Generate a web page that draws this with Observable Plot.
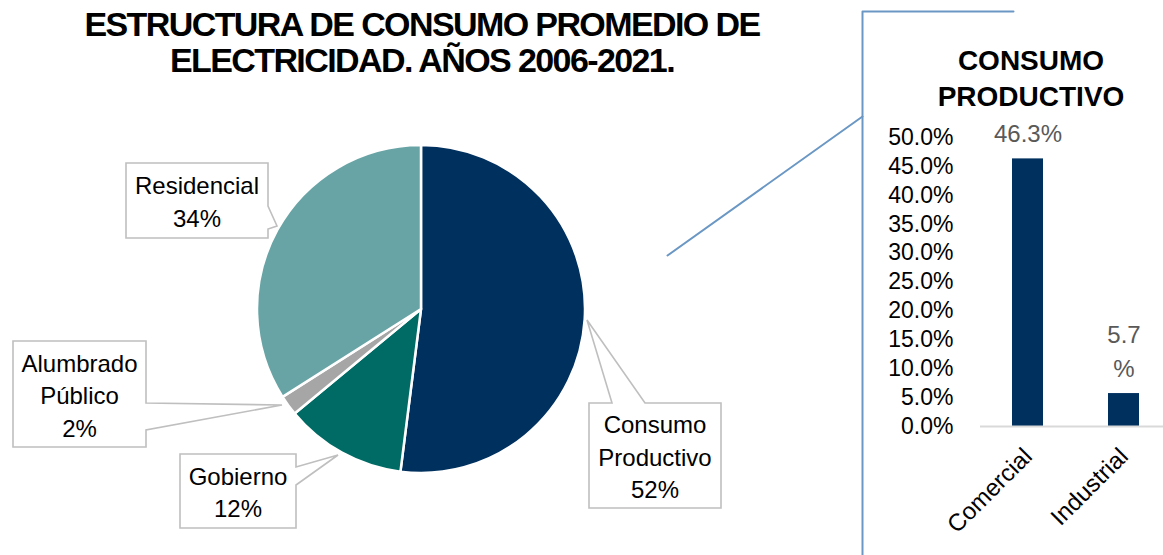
<!DOCTYPE html>
<html>
<head>
<meta charset="utf-8">
<script src="https://cdn.jsdelivr.net/npm/d3@7"></script>
<script src="https://cdn.jsdelivr.net/npm/@observablehq/plot@0.6"></script>
<style>
  html, body { margin: 0; padding: 0; background: #fff; }
  #wrap { position: relative; width: 1163px; height: 555px; overflow: hidden; background: #fff;
          font-family: "Liberation Sans", Arial, sans-serif; }
  #wrap svg { position: absolute; top: 0; }
  .title { position: absolute; left: 0; top: 6px; width: 844px; text-align: center; font-weight: bold;
           font-size: 34px; letter-spacing: -1.6px; line-height: 36px; color: #000; }
  .subtitle { position: absolute; left: 881px; top: 43px; width: 300px; text-align: center; font-weight: bold;
              font-size: 28px; line-height: 36px; color: #000; }
</style>
</head>
<body>
<div id="wrap">
  <div class="title">ESTRUCTURA DE CONSUMO PROMEDIO DE<br>ELECTRICIDAD. AÑOS 2006-2021.</div>
  <div class="subtitle">CONSUMO<br>PRODUCTIVO</div>
</div>
<script>
// ---- data ----
const pieCategories = ["Consumo Productivo", "Gobierno", "Alumbrado Público", "Residencial"];
const pieValues = [52, 12, 2, 34];
const pieColors = ["#00305E", "#006B65", "#A6A6A6", "#68A4A5"];

const barCategories = ["Comercial", "Industrial"];
const barValues = [0.463, 0.057];
const barTicks = [0, 0.05, 0.10, 0.15, 0.20, 0.25, 0.30, 0.35, 0.40, 0.45, 0.50];
const barLabelWrap = [false, true];

// ---- layout (page pixels) ----
const pieLayout = { cx: 421, cy: 309, r: 164 };
const callouts = [
  { box: [589, 403, 721, 508], path: "M589,403H612L587,320L645,403H721V508H589Z" },
  { box: [180, 454, 296, 528], path: "M180,454H296V467L338,455L296,485V528H180Z" },
  { box: [13, 341, 146, 447],  path: "M13,341H146V403L282,405L146,430V447H13Z" },
  { box: [126, 163, 268, 238], path: "M126,163H268V206L277,226L268,229V238H126Z" }
];
const frameLine = [[862, 555], [862, 11], [1013, 11]];
const connectorLine = [[667, 255], [862, 116]];
const lineColor = "#6A97C4";

const wrap = document.getElementById("wrap");

// ---- pie (main plot) ----
const pieRender = (index, scales) => {
  const g = d3.create("svg:g");
  const cx = scales.x(pieLayout.cx), cy = scales.y(pieLayout.cy);
  const arcs = d3.pie().sort(null).value(d => d)(pieValues);
  const arc = d3.arc().innerRadius(0).outerRadius(pieLayout.r);
  g.append("g").attr("transform", `translate(${cx},${cy})`)
    .selectAll("path").data(arcs).join("path")
    .attr("d", arc)
    .attr("fill", (d, i) => pieColors[i])
    .attr("stroke", "#fff").attr("stroke-width", 2.5).attr("stroke-linejoin", "round");
  const total = d3.sum(pieValues);
  callouts.forEach((c, i) => {
    g.append("path").attr("d", c.path).attr("fill", "#fff")
      .attr("stroke", "#BFBFBF").attr("stroke-width", 1.6);
    const lines = pieCategories[i].split(" ").concat(Math.round(pieValues[i] / total * 100) + "%");
    const step = 32.5;
    const midX = (c.box[0] + c.box[2]) / 2, midY = (c.box[1] + c.box[3]) / 2;
    const first = midY - (lines.length - 1) * step / 2 + 10;
    const t = g.append("text").attr("text-anchor", "middle").attr("font-size", 24).attr("fill", "#000");
    lines.forEach((l, k) => t.append("tspan").attr("x", scales.x(midX)).attr("y", scales.y(first + k * step)).text(l));
  });
  return g.node();
};

const mainPlot = Plot.plot({
  width: 1163, height: 555, margin: 0,
  style: { fontFamily: "'Liberation Sans', Arial, sans-serif", background: "transparent", maxWidth: "none" },
  x: { domain: [0, 1163], range: [0, 1163], axis: null },
  y: { domain: [0, 555], range: [0, 555], axis: null },
  marks: [
    Plot.line(frameLine, { x: d => d[0], y: d => d[1], stroke: lineColor, strokeWidth: 2 }),
    Plot.line(connectorLine, { x: d => d[0], y: d => d[1], stroke: lineColor, strokeWidth: 2 }),
    pieRender
  ]
});
mainPlot.style.left = "0px";
wrap.insertBefore(mainPlot, wrap.firstChild);

// ---- bar chart ----
const fmt = d3.format(".1%");
const barData = barCategories.map((c, i) => ({
  cat: c, value: barValues[i],
  label: barLabelWrap[i] ? fmt(barValues[i]).replace("%", "\n%") : fmt(barValues[i])
}));

const barPlot = Plot.plot({
  width: 310, height: 555,
  marginLeft: 118, marginRight: 0, marginTop: 137, marginBottom: 129,
  style: { fontFamily: "'Liberation Sans', Arial, sans-serif", fontSize: "23px", color: "#000",
           background: "transparent", maxWidth: "none", overflow: "visible" },
  x: { domain: barCategories, paddingInner: 0.677, paddingOuter: 0.3385, label: null },
  y: { domain: [0, 0.5], label: null },
  marks: [
    Plot.barY(barData, { x: "cat", y: "value", fill: "#00305E" }),
    Plot.ruleY([0], { stroke: "#D9D9D9", strokeWidth: 2 }),
    Plot.text(barData, { x: "cat", y: "value", text: "label", dy: -17, lineAnchor: "bottom",
                         lineHeight: 1.4, fill: "#595959", fontSize: 24 }),
    Plot.axisY({ ticks: barTicks, tickFormat: fmt, tickSize: 0, tickPadding: 27, label: null, fontSize: 23 }),
    Plot.axisX({ tickSize: 0, tickRotate: -45, tickPadding: 26, label: null, fontSize: 24 })
  ]
});
barPlot.style.left = "862px";
wrap.insertBefore(barPlot, mainPlot.nextSibling);
</script>
</body>
</html>
